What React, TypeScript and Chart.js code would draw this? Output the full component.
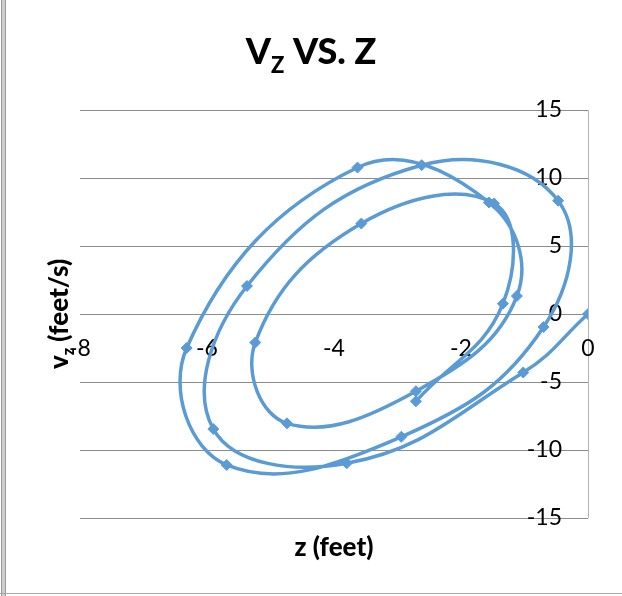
import React, { useEffect, useRef } from 'react';
import { Chart, registerables } from 'chart.js';

Chart.register(...registerables);

// z (feet) and v_z (feet/s), in the order the trajectory is traced
const zFeet = [0, -1.02, -3.8, -5.9, -5.37, -2.62, -0.47, -0.7, -2.94, -5.69, -6.32, -3.63, -1.56, -1.12, -2.71, -4.74, -5.24, -3.57, -1.48, -1.34, -2.71];
const vzFeetPerS = [0, -4.3, -10.98, -8.46, 2.06, 10.94, 8.33, -0.96, -9.03, -11.1, -2.5, 10.77, 8.2, 1.32, -5.68, -8.04, -2.1, 6.65, 8.13, 0.76, -6.42];
const xTicks = [-8, -6, -4, -2, 0];
const yTicks = [-15, -10, -5, 0, 5, 10, 15];

const FONT = 'Lato, "Open Sans", sans-serif';

type Part = { t: string; sub?: boolean };

function drawParts(ctx: CanvasRenderingContext2D, parts: Part[], cx: number, cy: number, size: number, subSize: number, subDrop: number) {
  const mainFont = `900 ${size}px ${FONT}`;
  const subFont = `900 ${subSize}px ${FONT}`;
  let total = 0;
  const widths = parts.map((p) => {
    ctx.font = p.sub ? subFont : mainFont;
    const w = ctx.measureText(p.t).width;
    total += w;
    return w;
  });
  let x = cx - total / 2;
  ctx.textAlign = 'left';
  ctx.textBaseline = 'alphabetic';
  parts.forEach((p, i) => {
    ctx.font = p.sub ? subFont : mainFont;
    ctx.fillText(p.t, x, cy + (p.sub ? subDrop : 0));
    x += widths[i];
  });
}

const labelsPlugin = {
  id: 'excelLabels',
  beforeDatasetsDraw(chart: any) {
    const { ctx, scales } = chart;
    const xs = scales.x;
    const ys = scales.y;
    const x0 = xs.getPixelForValue(0);
    const y0 = ys.getPixelForValue(0);
    ctx.save();
    ctx.fillStyle = '#000';
    ctx.font = `23px ${FONT}`;
    ctx.textAlign = 'right';
    ctx.textBaseline = 'middle';
    yTicks.forEach((v) => ctx.fillText(String(v), x0 - 26, ys.getPixelForValue(v)));
    ctx.textAlign = 'center';
    xTicks.forEach((v) => ctx.fillText(String(v), xs.getPixelForValue(v), y0 + 35));
    ctx.restore();
  },
  afterDraw(chart: any) {
    const { ctx, chartArea } = chart;
    ctx.save();
    ctx.fillStyle = '#000';
    // chart title
    drawParts(ctx, [{ t: 'V' }, { t: 'Z', sub: true }, { t: ' VS. Z' }], chart.width / 2, 64, 36, 22, 9);
    // x axis title
    drawParts(ctx, [{ t: 'z (feet)' }], (chartArea.left + chartArea.right) / 2, 556, 26, 16, 6);
    // y axis title (rotated)
    ctx.translate(68, (chartArea.top + chartArea.bottom) / 2);
    ctx.rotate(-Math.PI / 2);
    drawParts(ctx, [{ t: 'v' }, { t: 'z', sub: true }, { t: ' (feet/s)' }], 0, 0, 26, 16, 6);
    ctx.restore();
  },
};

export default function App() {
  const canvasRef = useRef<HTMLCanvasElement | null>(null);

  useEffect(() => {
    const canvas = canvasRef.current;
    if (!canvas) return;
    const chart = new Chart(canvas, {
      type: 'scatter',
      data: {
        datasets: [
          {
            data: zFeet.map((z, i) => ({ x: z, y: vzFeetPerS[i] })),
            showLine: true,
            tension: 0.42,
            borderColor: '#5B9BD5',
            backgroundColor: '#5B9BD5',
            borderWidth: 3.5,
            pointStyle: 'rectRot',
            pointRadius: 5.5,
            pointHoverRadius: 5.5,
            pointBorderWidth: 1,
          },
        ],
      },
      options: {
        responsive: false,
        animation: false,
        devicePixelRatio: 1,
        layout: { padding: { left: 80, right: 34, top: 110, bottom: 78 } },
        plugins: {
          legend: { display: false },
          tooltip: { enabled: false },
          title: { display: false },
        },
        scales: {
          x: {
            type: 'linear',
            min: -8,
            max: 0,
            ticks: { display: false, stepSize: 2 },
            grid: {
              color: (c: any) => (c.tick && c.tick.value === 0 ? '#b4b4b4' : 'rgba(0,0,0,0)'),
              drawTicks: false,
              lineWidth: 1,
            },
            border: { display: false },
            afterFit: (s: any) => {
              s.height = 0;
            },
          },
          y: {
            type: 'linear',
            min: -15,
            max: 15,
            ticks: { display: false, stepSize: 5 },
            grid: { color: '#8c8c8c', drawTicks: false, lineWidth: 1 },
            border: { display: false },
            afterFit: (s: any) => {
              s.width = 0;
            },
          },
        },
      },
      plugins: [labelsPlugin],
    } as any);
    return () => chart.destroy();
  }, []);

  return (
    <div style={{ position: 'fixed', left: 0, top: 0, width: 622, height: 596, background: '#fff' }}>
      <div
        style={{
          position: 'absolute',
          left: 1,
          top: 0,
          width: 3,
          height: 596,
          background: '#cfcfcf',
          borderLeft: '1px solid #9a9a9a',
          borderRight: '1px solid #9a9a9a',
        }}
      />
      <div style={{ position: 'absolute', left: 0, top: 593, width: 622, height: 1, background: '#a8a8a8' }} />
      <canvas ref={canvasRef} width={622} height={596} style={{ position: 'absolute', left: 0, top: 0, width: 622, height: 596 }} />
    </div>
  );
}
